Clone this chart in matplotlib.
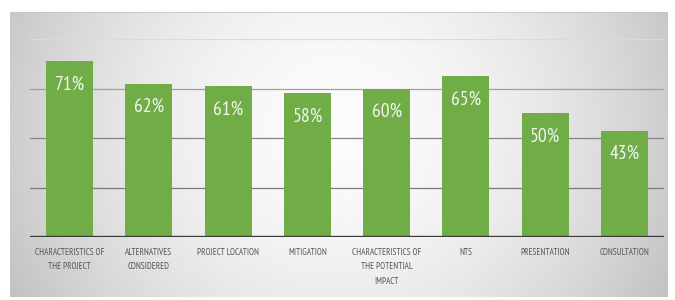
import numpy as np
import matplotlib
matplotlib.use('Agg')
import matplotlib.pyplot as plt

plt.rcParams['font.family'] = ['PT Sans Narrow', 'DejaVu Sans']

# data
categories = ['CHARACTERISTICS OF\nTHE PROJECT', 'ALTERNATIVES\nCONSIDERED', 'PROJECT LOCATION',
              'MITIGATION', 'CHARACTERISTICS OF\nTHE POTENTIAL\nIMPACT', 'NTS',
              'PRESENTATION', 'CONSULTATION']
values = [71, 62, 61, 58, 60, 65, 50, 43]

fig = plt.figure(figsize=(6.75, 3.0), dpi=100)

# grey gradient panel behind the chart
bg = fig.add_axes([10 / 675, 3 / 300, 658 / 675, 285 / 300])
xx, yy = np.meshgrid(np.linspace(-1, 1, 300), np.linspace(-1, 1, 150))
r = np.sqrt((xx * 1.0) ** 2 + ((yy + 0.2) * 0.45) ** 2)
shade = 0.985 - 0.18 * np.clip(r, 0, 1.3) ** 1.8
bg.imshow(shade, cmap='gray', vmin=0, vmax=1, aspect='auto', interpolation='bicubic')
bg.axis('off')
bg.axhline(-0.5, color='#c4c4c4', lw=1.2)

ax = fig.add_axes([30 / 675, 63 / 300, 634 / 675, 198 / 300])
ax.patch.set_alpha(0)
x = np.arange(len(categories))
bars = ax.bar(x, values, width=0.59, color='#70ad47', zorder=3)

ax.set_ylim(0, 80)
ax.set_xlim(-0.5, len(categories) - 0.5)
for g, c in [(20, '#7a7a7a'), (40, '#858585'), (60, '#a0a0a0'), (80, '#dadada')]:
    ax.axhline(g, color=c, lw=0.9, zorder=1)
ax.axhline(0, color='#3a3a3a', lw=2.4, zorder=4)

for b, v in zip(bars, values):
    ax.text(b.get_x() + b.get_width() / 2, v - 9.5, f'{v}%', ha='center', va='center',
            color='#f4f4f4', fontsize=14, zorder=5)

ax.set_xticks(x)
ax.set_xticklabels(categories, fontsize=6.6, color='#555555', linespacing=1.75, va='top')
ax.tick_params(axis='x', length=0, pad=8)
ax.set_yticks([])
for s in ax.spines.values():
    s.set_visible(False)

fig.savefig('out.png', dpi=100)
